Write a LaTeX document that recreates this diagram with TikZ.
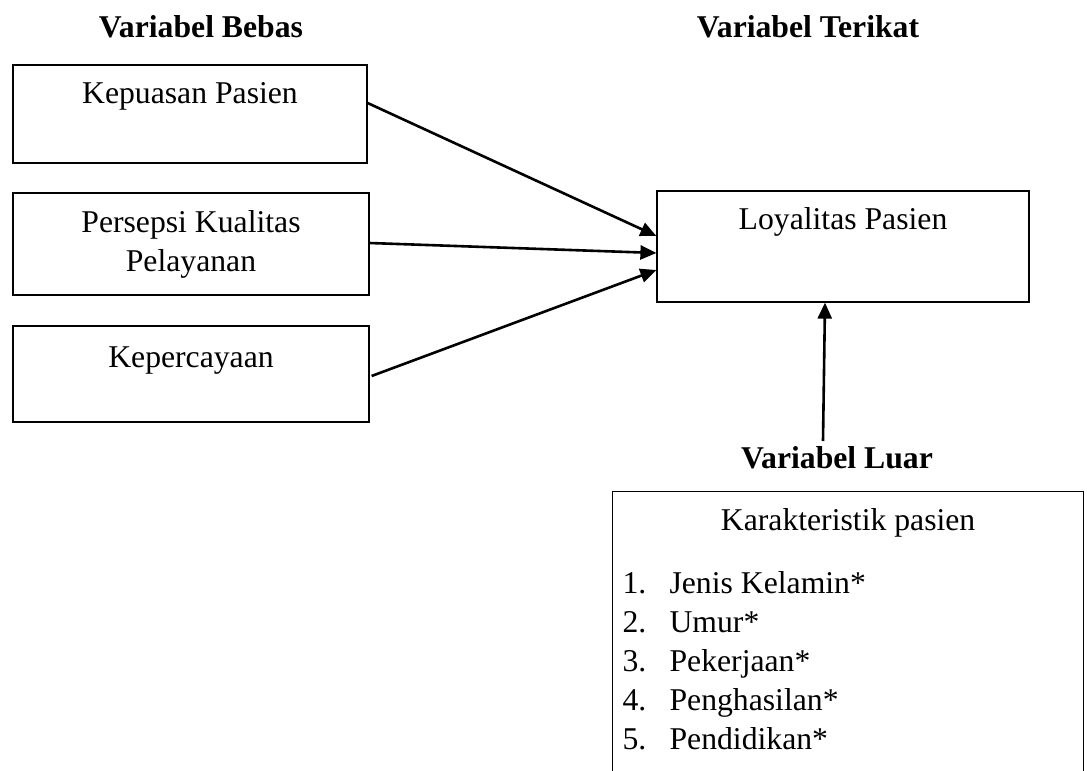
\documentclass[tikz,border=0pt]{standalone}
\usepackage{fontspec}
\setmainfont{Liberation Serif}
\usetikzlibrary{arrows.meta}

\begin{document}
\begin{tikzpicture}[x=1pt, y=-1pt, >={Triangle[length=16pt, width=14pt]}, line width=1.2pt, font=\fontsize{31.7}{39}\selectfont]
\tikzset{
	varbox/.style={draw, rectangle, inner sep=2pt, align=center},
	toplabel/.style={anchor=north, inner sep=2pt, align=center},
	vartitle/.style={inner sep=2pt, font=\fontsize{31.7}{38}\selectfont\bfseries},
	link/.style={->, line width=2.6pt}
}
\clip (0,0) rectangle (1087,771);

% judul kelompok variabel
\node[vartitle, anchor=base] (bebas) at (201,37) {Variabel Bebas};
\node[vartitle, anchor=base] (terikat) at (808,37) {Variabel Terikat};
\node[vartitle, anchor=base] (luar) at (837,468) {Variabel Luar};

% variabel bebas
\node[varbox, minimum width=354pt, minimum height=98pt,
	label={[toplabel, yshift=-16pt]north:Kepuasan Pasien}] (kepuasan) at (190,114) {};
\node[varbox, minimum width=356pt, minimum height=102pt] (persepsi) at (191,244)
{Persepsi Kualitas\\Pelayanan};
\node[varbox, minimum width=356pt, minimum height=96pt,
	label={[toplabel, yshift=-19pt]north:Kepercayaan}] (kepercayaan) at (191,374) {};

% variabel terikat
\node[varbox, minimum width=372pt, minimum height=111pt,
	label={[toplabel, yshift=-15pt]north:Loyalitas Pasien}] (loyalitas) at (843,246.5) {};

% variabel luar
\node[varbox, anchor=north west, minimum width=471pt, minimum height=330pt,
	label={[toplabel, yshift=-15pt]north:Karakteristik pasien},
	label={[anchor=north west, inner sep=2pt, xshift=8pt, yshift=-73pt]north west:{%
		\begin{tabular}{@{}p{47pt}@{}l@{}}
		1. & Jenis Kelamin*\\
		2. & Umur*\\
		3. & Pekerjaan*\\
		4. & Penghasilan*\\
		5. & Pendidikan*
		\end{tabular}}}] (karakteristik) at (612,491) {};

\coordinate (luartop) at (823,441);

% hubungan antar variabel
\draw[link] ([yshift=11pt]kepuasan.east) -- ([yshift=10.5pt]loyalitas.west);
\draw[link] ([yshift=1pt]persepsi.east) -- ([yshift=-6.5pt]loyalitas.west);
\draw[link] ([yshift=-2pt, xshift=2pt]kepercayaan.east) -- ([yshift=-23.5pt]loyalitas.west);
\draw[link] (luartop) -- ([xshift=-18pt]loyalitas.south);

\end{tikzpicture}
\end{document}
